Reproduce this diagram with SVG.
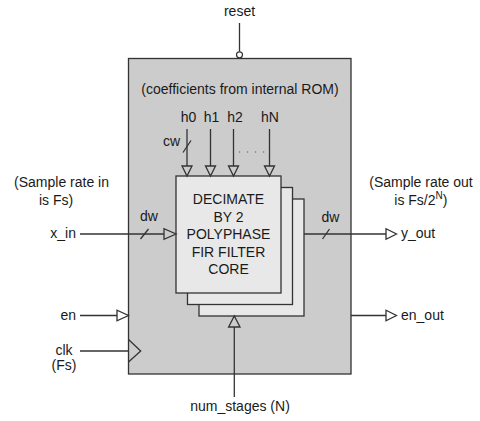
<svg xmlns="http://www.w3.org/2000/svg" width="480" height="421" viewBox="0 0 480 421">
<style>
text{font-family:"Liberation Sans",Arial,sans-serif;font-size:14px;fill:#1a1a1a}
.ln{stroke:#333;stroke-width:1.3;fill:none}
.tri{stroke:#333;stroke-width:1.3;fill:#cccccc;stroke-linejoin:miter}
.outer{fill:#cccccc;stroke:#333;stroke-width:1.3}
.core{fill:#e8e8e8;stroke:#333;stroke-width:1.3}
.m{text-anchor:middle}
.e{text-anchor:end}
</style>
<rect width="480" height="421" fill="#ffffff"/>
<g id="block">
<rect class="outer" x="128.5" y="58.5" width="222.5" height="315.5"/>
<text class="m" x="240" y="93.5">(coefficients from internal ROM)</text>
</g>
<g id="core">
<rect class="core" x="199" y="199" width="105" height="117"/>
<rect class="core" x="187.5" y="187.5" width="105" height="117"/>
<rect class="core" x="176" y="176" width="105" height="117"/>
<text class="m" x="228.5" y="204">DECIMATE</text>
<text class="m" x="228.5" y="221.5">BY 2</text>
<text class="m" x="228.5" y="239">POLYPHASE</text>
<text class="m" x="228.5" y="256.5">FIR FILTER</text>
<text class="m" x="228.5" y="274">CORE</text>
</g>
<g id="connectors">
<!-- reset -->
<line class="ln" x1="239.5" y1="23" x2="239.5" y2="51.5"/>
<circle cx="239.5" cy="54.8" r="3" fill="#ffffff" stroke="#333" stroke-width="1.2"/>
<!-- coefficients -->
<line class="ln" x1="187" y1="129" x2="187" y2="166"/>
<polygon class="tri" points="182,166 192,166 187,176"/>
<line class="ln" x1="183" y1="152.5" x2="191" y2="140.5"/>
<line class="ln" x1="210.5" y1="129" x2="210.5" y2="166"/>
<polygon class="tri" points="205.5,166 215.5,166 210.5,176"/>
<line class="ln" x1="233.5" y1="129" x2="233.5" y2="166"/>
<polygon class="tri" points="228.5,166 238.5,166 233.5,176"/>
<line class="ln" x1="269.5" y1="129" x2="269.5" y2="166"/>
<polygon class="tri" points="264.5,166 274.5,166 269.5,176"/>
<line x1="239" y1="152" x2="265" y2="152" stroke="#555" stroke-width="1.2" stroke-dasharray="1.2 6.8"/>
<!-- x_in -->
<line class="ln" x1="80" y1="234" x2="164" y2="234"/>
<polygon class="tri" points="164,228.7 164,239.3 176,234"/>
<line class="ln" x1="140.5" y1="239" x2="148.5" y2="229"/>
<!-- y_out -->
<line class="ln" x1="304" y1="234" x2="386" y2="234"/>
<polygon class="tri" points="386,228.7 386,239.3 396.5,234" style="fill:#ffffff"/>
<line class="ln" x1="322.5" y1="239" x2="329.5" y2="229"/>
<!-- en -->
<line class="ln" x1="80" y1="315.5" x2="117" y2="315.5"/>
<polygon class="tri" points="117,310.2 117,320.8 128.5,315.5" style="fill:#ffffff"/>
<!-- en_out -->
<line class="ln" x1="351" y1="315.5" x2="386" y2="315.5"/>
<polygon class="tri" points="386,310.2 386,320.8 396.5,315.5" style="fill:#ffffff"/>
<!-- clk -->
<line class="ln" x1="80" y1="351" x2="128.5" y2="351"/>
<polyline class="ln" points="128.5,339.5 140.7,351 128.5,362"/>
<!-- num_stages -->
<line class="ln" x1="234.3" y1="327" x2="234.3" y2="397"/>
<polygon class="tri" points="228.6,327 240,327 234.3,316"/>
</g>
<g id="labels">
<text class="m" x="239.5" y="16">reset</text>
<text class="m" x="188.5" y="122">h0</text>
<text class="m" x="211.5" y="122">h1</text>
<text class="m" x="235" y="122">h2</text>
<text class="m" x="270" y="122">hN</text>
<text x="163" y="146">cw</text>
<text class="m" x="61.5" y="186.5">(Sample rate in</text>
<text class="m" x="56" y="204.5">is Fs)</text>
<text class="e" x="76" y="237.5">x_in</text>
<text class="m" x="149" y="221">dw</text>
<text class="m" x="330.5" y="221.5">dw</text>
<text class="m" x="421" y="186.5">(Sample rate out</text>
<text x="394.3" y="205">is Fs/2<tspan font-size="10" dy="-6">N</tspan><tspan dy="6">)</tspan></text>
<text x="401" y="238">y_out</text>
<text class="e" x="76" y="319.5">en</text>
<text x="401" y="320">en_out</text>
<text class="m" x="64" y="355">clk</text>
<text class="m" x="64" y="370">(Fs)</text>
<text class="m" x="240" y="411">num_stages (N)</text>
</g>
</svg>
